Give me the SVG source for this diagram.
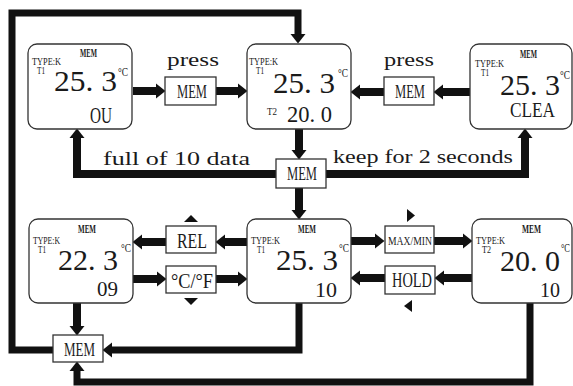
<svg xmlns="http://www.w3.org/2000/svg" width="573" height="386" viewBox="0 0 573 386">
<style>
text{font-family:"Liberation Serif","Times New Roman",serif;fill:#1a1a1a}
.box{fill:#fff;stroke:#333;stroke-width:1.3}
.lbl{fill:#fff;stroke:#333;stroke-width:1.3}
.sm{font-size:10.5px}
.smb{font-size:11.5px;font-weight:bold}
.big{font-size:29px}
.deg{font-size:12px}
.mid{font-size:18px}
.c{fill:none;stroke:#111;stroke-width:8}
.loop{fill:none;stroke:#111;stroke-width:7}
.tri{fill:#111}
</style>
<defs>
<marker id="ah" markerUnits="userSpaceOnUse" viewBox="0 -8 10 16" refX="0" refY="0" markerWidth="10" markerHeight="16" orient="auto" overflow="visible">
<path d="M0,-7.5 L9.5,0 L0,7.5 Z" fill="#111"/>
</marker>
</defs>

<g id="connectors">
<path class="c" d="M133,91 H156" marker-end="url(#ah)"/>
<path class="c" d="M216,91 H238" marker-end="url(#ah)"/>
<path class="c" d="M470,92 H443" marker-end="url(#ah)"/>
<path class="c" d="M384,92 H360" marker-end="url(#ah)"/>
<path class="c" d="M299,129 V150" marker-end="url(#ah)"/>
<path class="c" d="M299,188 V210" marker-end="url(#ah)"/>
<path class="c" d="M276,174 H77 V138" marker-end="url(#ah)"/>
<path class="c" d="M326,174 H525 V138" marker-end="url(#ah)"/>
<path class="c" d="M247,242 H225" marker-end="url(#ah)"/>
<path class="c" d="M166,242 H142" marker-end="url(#ah)"/>
<path class="c" d="M133,279 H157" marker-end="url(#ah)"/>
<path class="c" d="M216,279 H238" marker-end="url(#ah)"/>
<path class="c" d="M351,241 H375" marker-end="url(#ah)"/>
<path class="c" d="M434,241 H463" marker-end="url(#ah)"/>
<path class="c" d="M472,278 H444" marker-end="url(#ah)"/>
<path class="c" d="M385,278 H360" marker-end="url(#ah)"/>
<path class="c" d="M77,303 V326" marker-end="url(#ah)"/>
<path class="loop" d="M299,303 V350 H112" marker-end="url(#ah)"/>
<path class="loop" d="M530,303 V382 H77 V371" marker-end="url(#ah)"/>
<path class="loop" d="M53,350 H12 V13 H298 V34" marker-end="url(#ah)"/>
</g>

<g id="box-ou">
<rect class="box" x="28" y="44" width="104" height="85" rx="9"/>
<text class="smb" x="80" y="57" textLength="17" lengthAdjust="spacingAndGlyphs">MEM</text>
<text class="sm" x="32" y="65" textLength="29" lengthAdjust="spacingAndGlyphs">TYPE:K</text>
<text class="sm" x="37" y="74" textLength="8" lengthAdjust="spacingAndGlyphs">T1</text>
<text class="big" x="54" y="91" textLength="63" lengthAdjust="spacingAndGlyphs">25. 3</text>
<text class="deg" x="118" y="76" textLength="10" lengthAdjust="spacingAndGlyphs">°C</text>
<text x="90" y="123" font-size="24" textLength="22" lengthAdjust="spacingAndGlyphs">OU</text>
</g>

<g id="box-t2">
<rect class="box" x="247" y="44" width="104" height="85" rx="9"/>
<text class="sm" x="249" y="65" textLength="29" lengthAdjust="spacingAndGlyphs">TYPE:K</text>
<text class="sm" x="256" y="74" textLength="8" lengthAdjust="spacingAndGlyphs">T1</text>
<text class="big" x="273" y="93" textLength="62" lengthAdjust="spacingAndGlyphs">25. 3</text>
<text class="deg" x="338" y="77" textLength="10" lengthAdjust="spacingAndGlyphs">°C</text>
<text class="sm" x="267" y="115" textLength="10" lengthAdjust="spacingAndGlyphs">T2</text>
<text x="287" y="122" font-size="24" textLength="45" lengthAdjust="spacingAndGlyphs">20. 0</text>
</g>

<g id="box-clea">
<rect class="box" x="470" y="44" width="102" height="85" rx="9"/>
<text class="smb" x="520" y="58" textLength="17" lengthAdjust="spacingAndGlyphs">MEM</text>
<text class="sm" x="475" y="67" textLength="29" lengthAdjust="spacingAndGlyphs">TYPE:K</text>
<text class="sm" x="481" y="76" textLength="8" lengthAdjust="spacingAndGlyphs">T1</text>
<text class="big" x="500" y="95" textLength="60" lengthAdjust="spacingAndGlyphs">25. 3</text>
<text class="deg" x="560" y="79" textLength="10" lengthAdjust="spacingAndGlyphs">°C</text>
<text x="510" y="117" font-size="22" textLength="45" lengthAdjust="spacingAndGlyphs">CLEA</text>
</g>

<g id="box-09">
<rect class="box" x="29" y="219" width="104" height="84" rx="9"/>
<text class="smb" x="78" y="233" textLength="18" lengthAdjust="spacingAndGlyphs">MEM</text>
<text class="sm" x="33" y="244" textLength="27" lengthAdjust="spacingAndGlyphs">TYPE:K</text>
<text class="sm" x="38" y="253" textLength="8" lengthAdjust="spacingAndGlyphs">T1</text>
<text class="big" x="58" y="270" textLength="60" lengthAdjust="spacingAndGlyphs">22. 3</text>
<text class="deg" x="121" y="252" textLength="10" lengthAdjust="spacingAndGlyphs">°C</text>
<text x="97" y="296" font-size="22" textLength="21" lengthAdjust="spacingAndGlyphs">09</text>
</g>

<g id="box-10">
<rect class="box" x="247" y="219" width="104" height="84" rx="9"/>
<text class="smb" x="298" y="233" textLength="18" lengthAdjust="spacingAndGlyphs">MEM</text>
<text class="sm" x="251" y="244" textLength="29" lengthAdjust="spacingAndGlyphs">TYPE:K</text>
<text class="sm" x="257" y="253" textLength="8" lengthAdjust="spacingAndGlyphs">T1</text>
<text class="big" x="276" y="270" textLength="62" lengthAdjust="spacingAndGlyphs">25. 3</text>
<text class="deg" x="339" y="252" textLength="10" lengthAdjust="spacingAndGlyphs">°C</text>
<text x="315" y="297" font-size="22" textLength="22" lengthAdjust="spacingAndGlyphs">10</text>
</g>

<g id="box-t2-10">
<rect class="box" x="472" y="219" width="100" height="84" rx="9"/>
<text class="smb" x="522" y="233" textLength="19" lengthAdjust="spacingAndGlyphs">MEM</text>
<text class="sm" x="476" y="244" textLength="29" lengthAdjust="spacingAndGlyphs">TYPE:K</text>
<text class="sm" x="482" y="253" textLength="9" lengthAdjust="spacingAndGlyphs">T2</text>
<text class="big" x="500" y="271" textLength="60" lengthAdjust="spacingAndGlyphs">20. 0</text>
<text class="deg" x="561" y="252" textLength="9" lengthAdjust="spacingAndGlyphs">°C</text>
<text x="540" y="297" font-size="22" textLength="20" lengthAdjust="spacingAndGlyphs">10</text>
</g>

<g id="btn-mem-1">
<rect class="lbl" x="165" y="77" width="51" height="28"/>
<text class="mid" x="177" y="98" textLength="30" lengthAdjust="spacingAndGlyphs">MEM</text>
</g>
<g id="btn-mem-2">
<rect class="lbl" x="384" y="77" width="50" height="28"/>
<text class="mid" x="395" y="98" textLength="30" lengthAdjust="spacingAndGlyphs">MEM</text>
</g>
<g id="btn-mem-mid">
<rect class="lbl" x="276" y="159" width="50" height="29"/>
<text class="mid" x="287" y="180" textLength="30" lengthAdjust="spacingAndGlyphs">MEM</text>
</g>
<g id="btn-rel">
<rect class="lbl" x="166" y="226" width="50" height="27"/>
<text x="177" y="248" font-size="21" textLength="30" lengthAdjust="spacingAndGlyphs">REL</text>
<path class="tri" d="M184,222 L191,215 L198,222 Z"/>
</g>
<g id="btn-cf">
<rect class="lbl" x="166" y="266" width="50" height="27"/>
<text x="171" y="288" font-size="20" textLength="42" lengthAdjust="spacingAndGlyphs">°C/°F</text>
<path class="tri" d="M184,298 L198,298 L191,305 Z"/>
</g>
<g id="btn-maxmin">
<rect class="lbl" x="385" y="226" width="49" height="27"/>
<text x="388" y="245" font-size="13" textLength="44" lengthAdjust="spacingAndGlyphs">MAX/MIN</text>
<path class="tri" d="M407,209 L415,215.5 L407,222 Z"/>
</g>
<g id="btn-hold">
<rect class="lbl" x="385" y="266" width="50" height="28"/>
<text x="392" y="287" font-size="20" textLength="40" lengthAdjust="spacingAndGlyphs">HOLD</text>
<path class="tri" d="M412,300 L412,312 L404,306 Z"/>
</g>
<g id="btn-mem-bottom">
<rect class="lbl" x="53" y="335" width="50" height="27"/>
<text class="mid" x="64" y="356" textLength="31" lengthAdjust="spacingAndGlyphs">MEM</text>
</g>

<g id="labels">
<text x="167" y="66" font-size="19" textLength="52" lengthAdjust="spacingAndGlyphs">press</text>
<text x="384" y="66" font-size="19" textLength="50" lengthAdjust="spacingAndGlyphs">press</text>
<text x="103" y="165" font-size="19" textLength="147" lengthAdjust="spacingAndGlyphs">full of 10 data</text>
<text x="333" y="163" font-size="19" textLength="180" lengthAdjust="spacingAndGlyphs">keep for 2 seconds</text>
</g>
</svg>
